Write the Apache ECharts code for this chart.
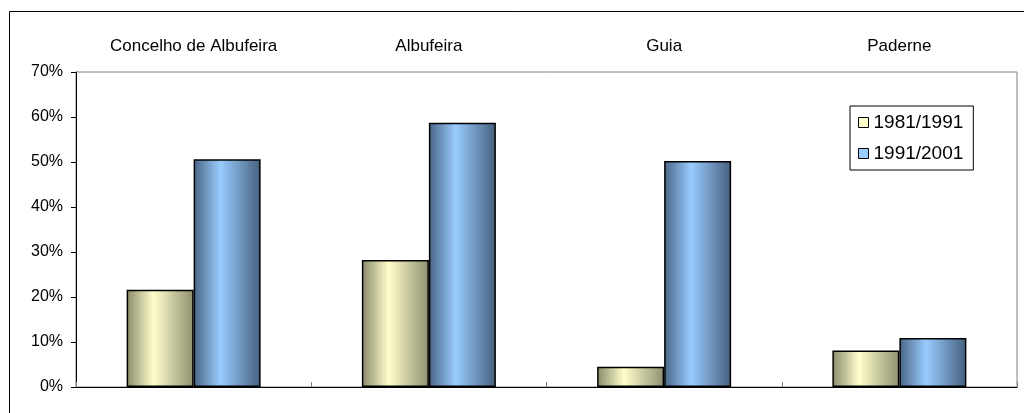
<!DOCTYPE html>
<html>
<head>
<meta charset="utf-8">
<style>html,body{margin:0;padding:0;background:#fff}#c{width:1024px;height:413px}</style>
<script src="https://cdn.jsdelivr.net/npm/echarts@6/dist/echarts.min.js"></script>
</head>
<body>
<div id="c"></div>
<script>
var categories = ['Concelho de Albufeira', 'Albufeira', 'Guia', 'Paderne'];
var seriesNames = ['1981/1991', '1991/2001'];
var values8191 = [21.6, 28.2, 4.5, 8.1];
var values9101 = [50.6, 58.7, 50.2, 10.9];

var chart = echarts.init(document.getElementById('c'), null, {renderer: 'canvas'});
var font = 'Liberation Sans, Arial, sans-serif';
function grad(edgeL, mid, edgeR) {
  return new echarts.graphic.LinearGradient(0, 0, 1, 0, [
    {offset: 0, color: edgeL}, {offset: 0.4, color: mid}, {offset: 1, color: edgeR}
  ]);
}
chart.setOption({
  animation: false,
  backgroundColor: '#fff',
  textStyle: {fontFamily: font},
  graphic: [{
    type: 'rect', shape: {x: 9.5, y: 11.5, width: 1030, height: 420},
    style: {fill: 'none', stroke: '#000', lineWidth: 1}, z: 0, silent: true
  }],
  grid: {left: 76, right: 7, top: 72, bottom: 26, show: true, borderColor: '#808080', borderWidth: 1, backgroundColor: 'transparent'},
  legend: {
    orient: 'vertical', left: 850, top: 106, width: 125,
    padding: [7, 10, 7, 8], itemGap: 12,
    borderColor: '#000', borderWidth: 1, backgroundColor: '#fff',
    itemWidth: 10, itemHeight: 10, icon: 'rect',
    textStyle: {fontSize: 19, color: '#000', fontFamily: font},
    data: [
      {name: seriesNames[0], itemStyle: {color: '#ffffcc', borderColor: '#000', borderWidth: 1}},
      {name: seriesNames[1], itemStyle: {color: '#99ccff', borderColor: '#000', borderWidth: 1}}
    ]
  },
  xAxis: [{
    type: 'category', data: categories, position: 'bottom',
    axisLine: {lineStyle: {color: '#000', width: 1}},
    axisTick: {show: true, inside: true, length: 5, lineStyle: {color: '#808080'}},
    axisLabel: {show: false}
  }, {
    type: 'category', data: categories, position: 'top',
    axisLine: {show: false}, axisTick: {show: false},
    axisLabel: {show: true, fontSize: 17, color: '#000', margin: 17, fontFamily: font}
  }],
  yAxis: {
    type: 'value', min: 0, max: 70, interval: 10,
    axisLine: {show: true, lineStyle: {color: '#000'}},
    axisTick: {show: true, length: 5, lineStyle: {color: '#000'}},
    splitLine: {show: false},
    axisLabel: {formatter: '{value}%', fontSize: 16, color: '#000', margin: 13, fontFamily: font}
  },
  series: [{
    name: seriesNames[0], type: 'bar', data: values8191, xAxisIndex: 0,
    barWidth: 67, barGap: '0%',
    itemStyle: {color: grad('#8a8a6a', '#ffffcc', '#8f8f70'), borderColor: '#000', borderWidth: 1.5}
  }, {
    name: seriesNames[1], type: 'bar', data: values9101, xAxisIndex: 0,
    barWidth: 67, barGap: '0%',
    itemStyle: {color: grad('#4a6585', '#99ccff', '#46607e'), borderColor: '#000', borderWidth: 1.5}
  }]
});
</script>
</body>
</html>
